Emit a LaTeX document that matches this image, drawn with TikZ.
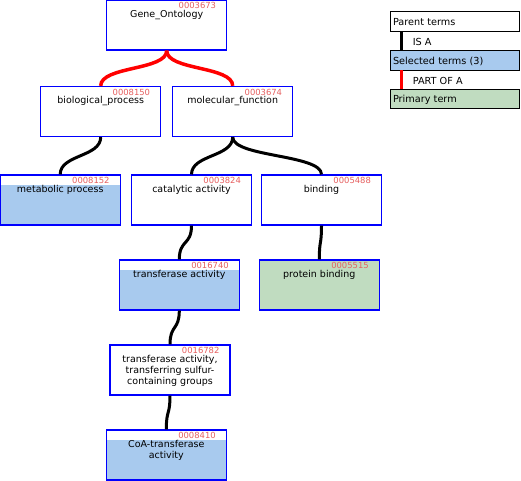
\documentclass[tikz,border=0pt]{standalone}
\usepackage{fontspec}
\setmainfont{DejaVu Sans}
\usetikzlibrary{positioning}
\definecolor{selblue}{RGB}{168,202,238}
\definecolor{primgreen}{RGB}{192,220,192}
\definecolor{idred}{RGB}{230,96,96}
\definecolor{boxblue}{RGB}{0,0,255}

\tikzset{
  term/.style={draw=boxblue, line width=1.2pt, fill=white, minimum width=120pt, minimum height=50pt, inner sep=0pt},
  selterm/.style={term, path picture={\fill[selblue] ([yshift=-10pt]path picture bounding box.north west) rectangle (path picture bounding box.south east);}},
  primterm/.style={term, fill=primgreen},
  termtext/.style={anchor=north, inner sep=0pt, align=center, font=\fontsize{9.5}{11.3}\selectfont},
  termid/.style={anchor=north east, inner sep=0pt, text=idred, font=\fontsize{8.4}{9}\selectfont},
  isa/.style={line width=3pt, black},
  partof/.style={line width=3.5pt, red},
  link/.style={to path={.. controls +(0,20) and +(0,-20) .. (\tikztotarget)}},
  legbox/.style={draw=black, line width=0.8pt, minimum width=129pt, minimum height=19.5pt, text width=124pt, align=left, inner xsep=2.5pt, inner ysep=1.5pt, text height=12.2pt, text depth=4.3pt, font=\fontsize{9.7}{11}\selectfont},
  leglabel/.style={anchor=west, inner sep=0pt, text=black, font=\fontsize{9.7}{11}\selectfont}
}

% one GO term: box, name and id
\newcommand{\goterm}[5][term]{%
  \node[#1] (#2) at (#3) {};
  \node[termtext] (#2-name) at ([yshift=-10.5pt]#2.north) {#5};
  \node[termid] (#2-id) at ([xshift=-11pt,yshift=-3pt]#2.north east) {#4};
}

\begin{document}
\begin{tikzpicture}[x=1pt, y=-1pt]
  \useasboundingbox (0,0) rectangle (521,480);

  % terms
  \goterm{go}{166.7,25}{0003673}{Gene\_Ontology}
  \goterm{bp}{100.7,111.5}{0008150}{biological\_process}
  \goterm{mf}{232.7,111.5}{0003674}{molecular\_function}
  \goterm[selterm]{mp}{60.2,200}{0008152}{metabolic process}
  \goterm{ca}{191.5,200}{0003824}{catalytic activity}
  \goterm{bd}{321.5,200}{0005488}{binding}
  \goterm[selterm]{ta}{179.3,285}{0016740}{transferase activity}
  \goterm[primterm]{pb}{319.3,285}{0005515}{protein binding}
  \goterm{ts}{170,370}{0016782}{transferase activity,\\transferring sulfur-\\containing groups}
  \goterm[selterm]{coa}{166.3,455}{0008410}{CoA-transferase\\activity}

  % relations
  \draw[partof, link] (go.south) to (bp.north);
  \draw[partof, link] (go.south) to (mf.north);
  \draw[isa, link] (bp.south) to (mp.north);
  \draw[isa, link] (mf.south) to (ca.north);
  \draw[isa, link] (mf.south) to (bd.north);
  \draw[isa, link] (ca.south) to (ta.north);
  \draw[isa, link] (bd.south) to (pb.north);
  \draw[isa, link] (ta.south) to (ts.north);
  \draw[isa, link] (ts.south) to (coa.north);

  % legend
  \node[legbox] (lparent) at (455,21.4) {Parent terms};
  \node[legbox, fill=selblue] (lsel) at (455,60.3) {Selected terms (3)};
  \node[legbox, fill=primgreen] (lprim) at (455,98.7) {Primary term};
  \draw[isa] ([xshift=11.2pt]lparent.south west) -- ([xshift=11.2pt]lsel.north west)
    node[leglabel, midway, xshift=10pt, yshift=-1.5pt] (lisa) {IS A};
  \draw[partof, line width=3pt] ([xshift=11.2pt]lsel.south west) -- ([xshift=11.2pt]lprim.north west)
    node[leglabel, midway, xshift=10pt, yshift=-1.5pt] (lpart) {PART OF A};
\end{tikzpicture}
\end{document}
